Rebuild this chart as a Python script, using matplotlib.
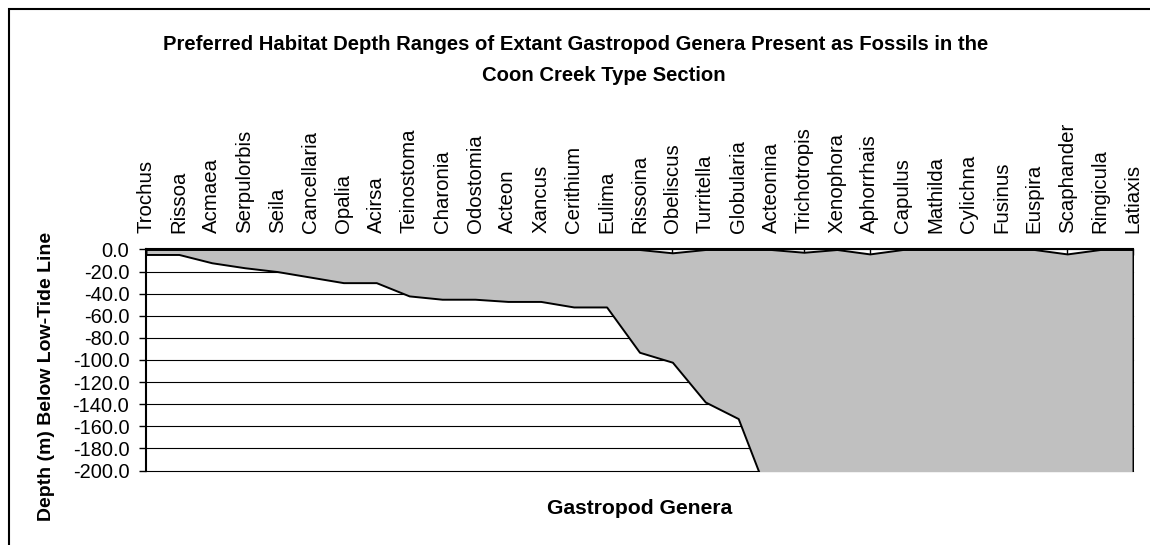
import numpy as np
import matplotlib
matplotlib.use("Agg")
import matplotlib.pyplot as plt
from matplotlib.patches import Rectangle

plt.rcParams['font.family'] = ['Liberation Sans', 'DejaVu Sans']
plt.rcParams['axes.unicode_minus'] = False

# genera along the x axis
genera = ["Trochus", "Rissoa", "Acmaea", "Serpulorbis", "Seila", "Cancellaria",
          "Opalia", "Acirsa", "Teinostoma", "Charonia", "Odostomia", "Acteon",
          "Xancus", "Cerithium", "Eulima", "Rissoina", "Obeliscus", "Turritella",
          "Globularia", "Acteonina", "Trichotropis", "Xenophora", "Aphorrhais",
          "Capulus", "Mathilda", "Cylichna", "Fusinus", "Euspira", "Scaphander",
          "Ringicula", "Latiaxis"]

# shallow end of the range (m)
min_depth = [0, 0, 0, 0, 0, 0, 0, 0, 0, 0, 0, 0, 0, 0, 0, 0, -3, 0, 0, 0,
             -2.5, 0, -4, 0, 0, 0, 0, 0, -4, 0, 0]

# deep end of the range (m), the ones past -200 are off the chart
max_depth = [-4.5, -4.5, -12, -16.5, -20, -25, -30, -30, -42, -45, -45, -47,
             -47, -52, -52, -93, -102, -138, -153, -230,
             -250, -250, -250, -250, -250, -250, -250, -250, -250, -250, -250]

W, H = 1150, 545
fig = plt.figure(figsize=(W / 100, H / 100), dpi=100)
ax = fig.add_axes([146 / W, 1 - 470.5 / H, (1133 - 146) / W, (470.5 - 249.5) / H])

x = np.arange(len(genera))

ax.set_ylim(-200, 0)
ax.set_xlim(0, len(genera) - 1)
ax.set_yticks(np.arange(-200, 1, 20))
ax.yaxis.set_major_formatter(matplotlib.ticker.FormatStrFormatter('%.1f'))
ax.grid(axis='y', color='black', linewidth=0.8)
ax.set_axisbelow(True)
for gl in ax.yaxis.get_gridlines():
    gl.set_clip_on(False)

ax.fill_between(x, min_depth, max_depth, facecolor='#c0c0c0',
                edgecolor='black', linewidth=1.4, zorder=2)

ax.set_xticks(x)
ax.set_xticklabels(genera, rotation=90, fontsize=14.7)
ax.tick_params(axis='x', top=True, bottom=False, labeltop=True, labelbottom=False,
               direction='in', length=4, width=1, pad=12)
ax.tick_params(axis='y', direction='out', length=5, width=1, labelsize=14.4, pad=7)

for s in ['bottom', 'right']:
    ax.spines[s].set_visible(False)
ax.spines['left'].set_linewidth(1.5)
ax.spines['top'].set_linewidth(1.5)
ax.spines['top'].set_zorder(3)

fig.text(576 / W, 1 - 45 / H,
         "Preferred Habitat Depth Ranges of Extant Gastropod Genera Present as Fossils in the",
         ha='center', va='center', fontsize=14.6, fontweight='bold')
fig.text(604 / W, 1 - 75 / H, "Coon Creek Type Section",
         ha='center', va='center', fontsize=14.6, fontweight='bold')
fig.text(640 / W, 1 - 508 / H, "Gastropod Genera", ha='center', va='center',
         fontsize=15.2, fontweight='bold')
fig.text(47 / W, 1 - 376 / H, "Depth (m) Below Low-Tide Line", ha='center', va='center',
         rotation=90, fontsize=14, fontweight='bold')

# outer chart frame, cut off at right and bottom
fig.patches.append(Rectangle((9 / W, -0.1), 1.2, (H - 9) / H + 0.1,
                             transform=fig.transFigure, fill=False,
                             edgecolor='black', linewidth=1.5))

fig.savefig("out.png", dpi=100)
